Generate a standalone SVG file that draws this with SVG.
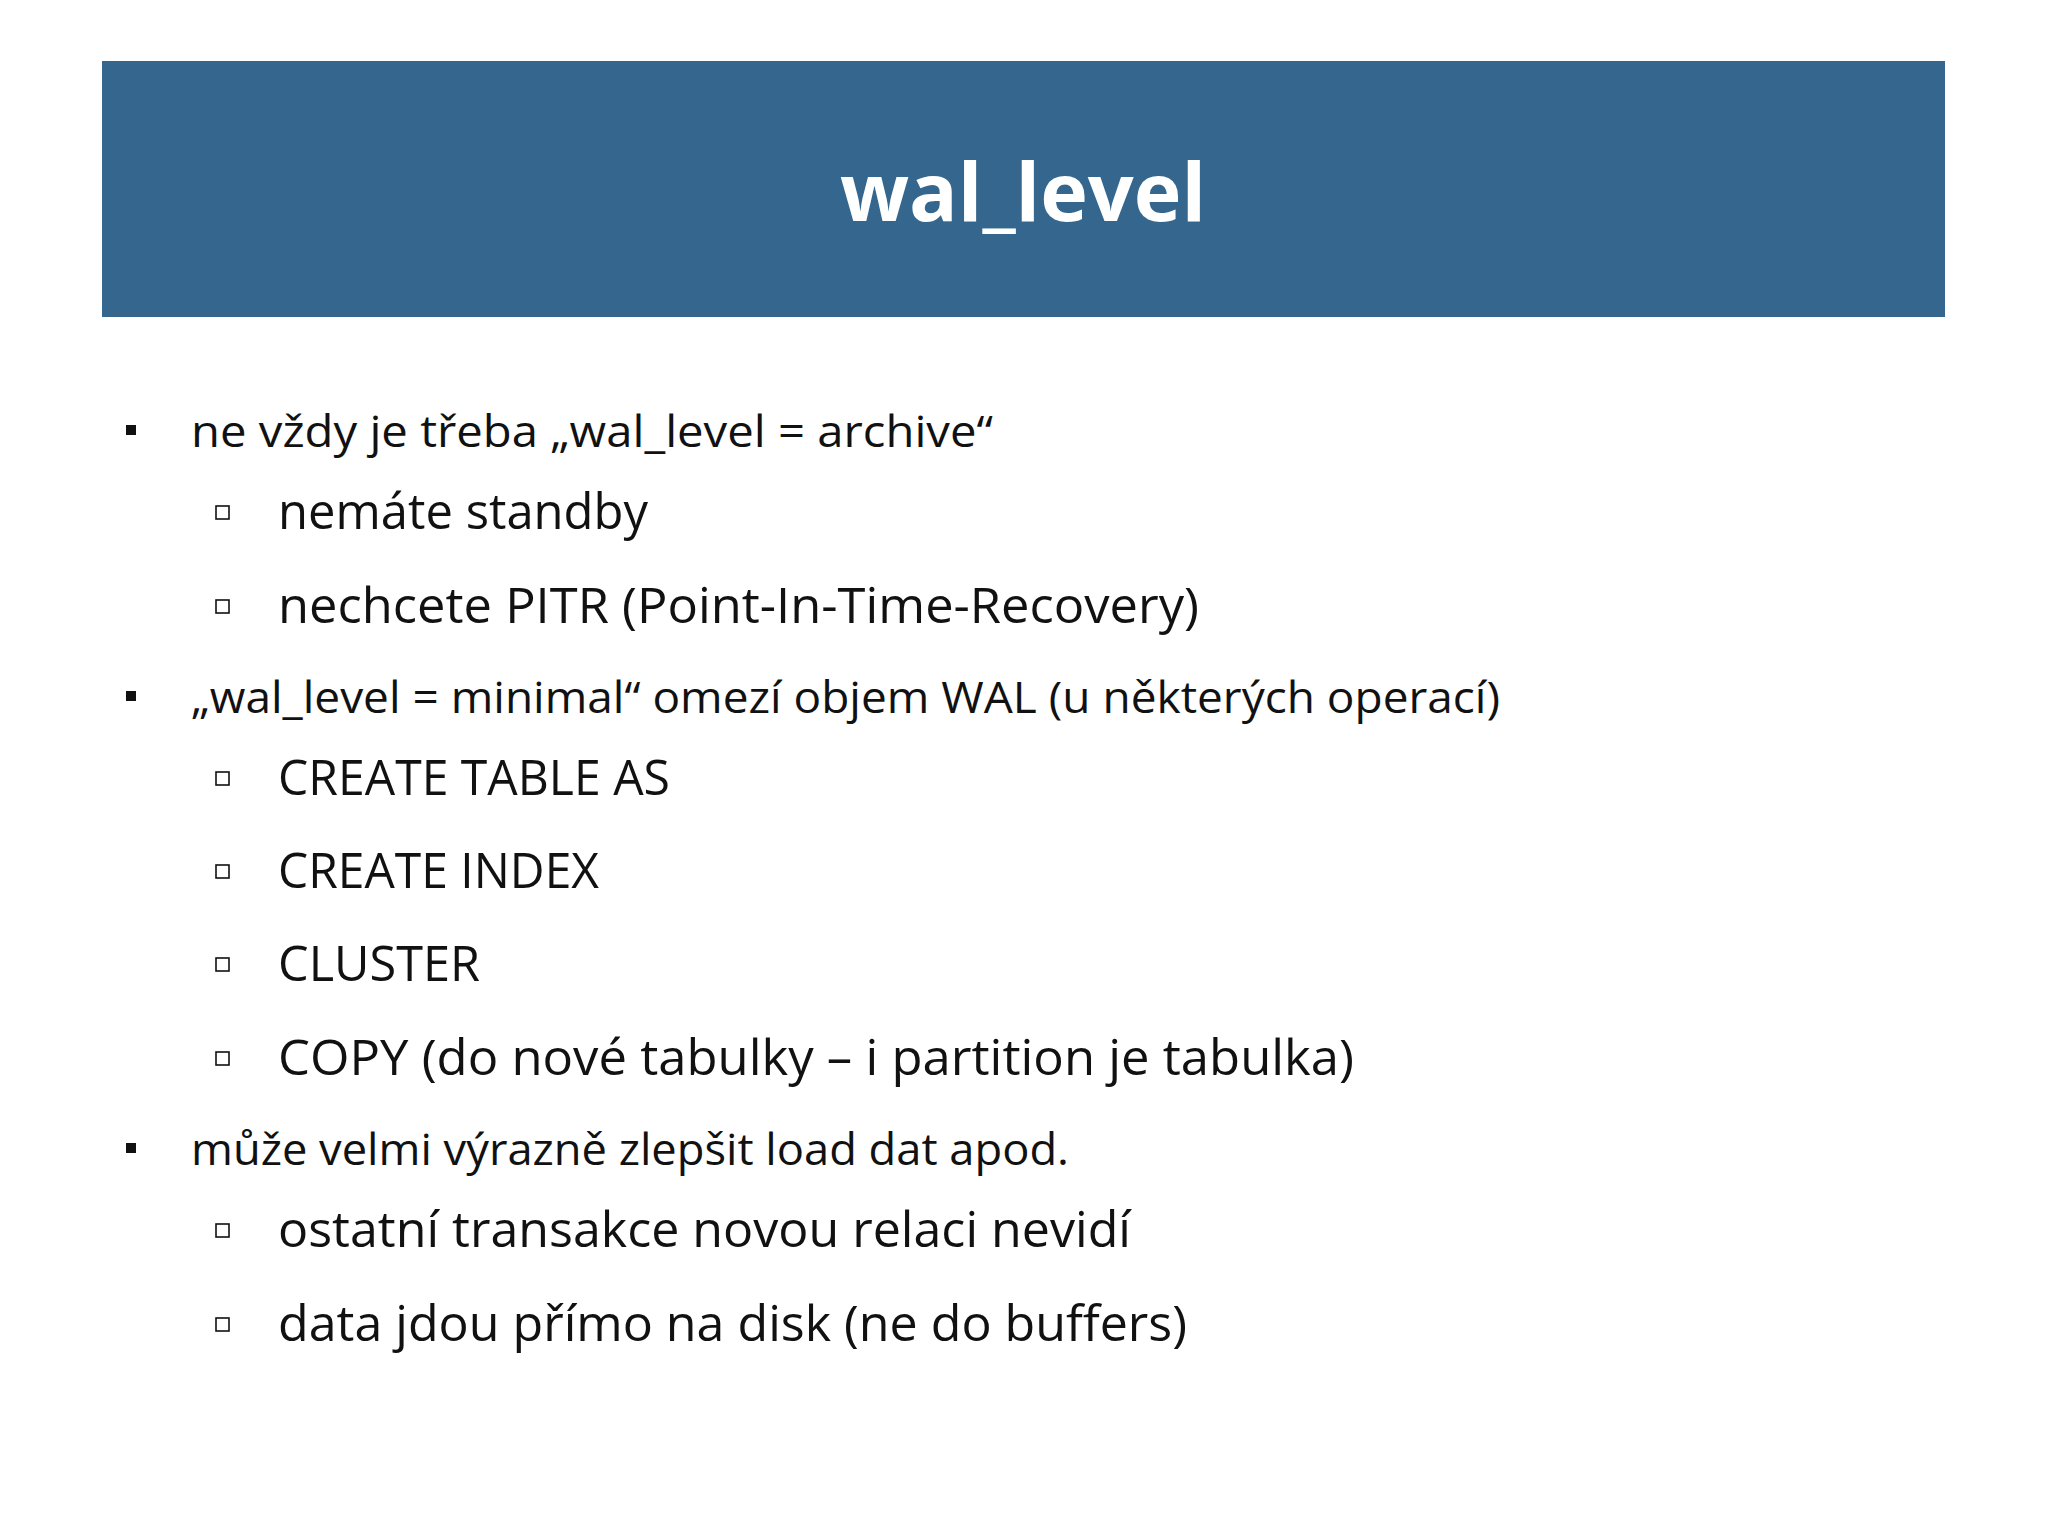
<svg xmlns="http://www.w3.org/2000/svg" width="2048" height="1535" viewBox="0 0 2048 1535">
<style>
.t{font-family:"Open Sans","Liberation Sans",sans-serif;fill:#111}
.l1{font-size:43px}
.l2{font-size:50px}
.b1{fill:#111}
.b2{fill:none;stroke:#111;stroke-width:1.6}
</style>
<rect width="2048" height="1535" fill="#fff"/>
<g id="header">
<rect x="102" y="61" width="1843" height="256" fill="#34668e"/>
<text x="1023" y="221" text-anchor="middle" font-family="Open Sans,Liberation Sans,sans-serif" font-weight="bold" font-size="80" fill="#fff" textLength="366" lengthAdjust="spacingAndGlyphs">wal_level</text>
</g>
<g id="bullets">
<rect class="b1" x="126" y="425" width="10" height="10"/>
<text class="t l1" x="191" y="447" textLength="802" lengthAdjust="spacingAndGlyphs">ne vždy je třeba „wal_level = archive“</text>
<rect class="b2" x="216" y="506" width="13" height="13"/>
<text class="t l2" x="278" y="529" textLength="370" lengthAdjust="spacingAndGlyphs">nemáte standby</text>
<rect class="b2" x="216" y="600" width="13" height="13"/>
<text class="t l2" x="278" y="623" textLength="921" lengthAdjust="spacingAndGlyphs">nechcete PITR (Point-In-Time-Recovery)</text>
<rect class="b1" x="126" y="691" width="10" height="10"/>
<text class="t l1" x="191" y="713" textLength="1309" lengthAdjust="spacingAndGlyphs">„wal_level = minimal“ omezí objem WAL (u některých operací)</text>
<rect class="b2" x="216" y="772" width="13" height="13"/>
<text class="t l2" x="278" y="795" textLength="392" lengthAdjust="spacingAndGlyphs">CREATE TABLE AS</text>
<rect class="b2" x="216" y="865" width="13" height="13"/>
<text class="t l2" x="278" y="888" textLength="321" lengthAdjust="spacingAndGlyphs">CREATE INDEX</text>
<rect class="b2" x="216" y="958" width="13" height="13"/>
<text class="t l2" x="278" y="981" textLength="202" lengthAdjust="spacingAndGlyphs">CLUSTER</text>
<rect class="b2" x="216" y="1052" width="13" height="13"/>
<text class="t l2" x="278" y="1075" textLength="1076" lengthAdjust="spacingAndGlyphs">COPY (do nové tabulky – i partition je tabulka)</text>
<rect class="b1" x="126" y="1143" width="10" height="10"/>
<text class="t l1" x="191" y="1165" textLength="878" lengthAdjust="spacingAndGlyphs">může velmi výrazně zlepšit load dat apod.</text>
<rect class="b2" x="216" y="1224" width="13" height="13"/>
<text class="t l2" x="278" y="1247" textLength="853" lengthAdjust="spacingAndGlyphs">ostatní transakce novou relaci nevidí</text>
<rect class="b2" x="216" y="1318" width="13" height="13"/>
<text class="t l2" x="278" y="1341" textLength="909" lengthAdjust="spacingAndGlyphs">data jdou přímo na disk (ne do buffers)</text>
</g>
</svg>
